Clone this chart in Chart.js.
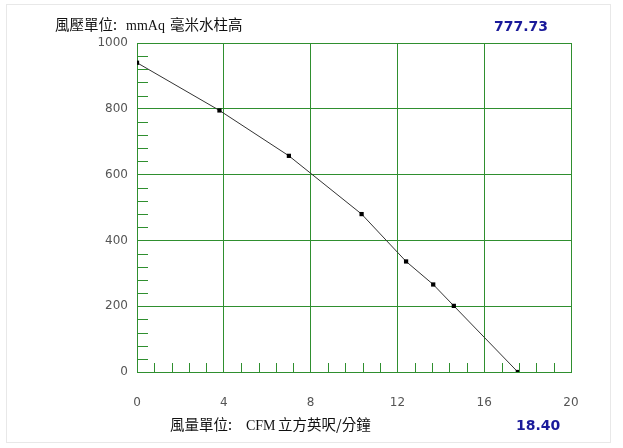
<!DOCTYPE html>
<html>
<head>
<meta charset="utf-8">
<script src="https://cdn.jsdelivr.net/npm/chart.js@4.4.1/dist/chart.umd.min.js"></script>
<style>
  html, body { margin: 0; padding: 0; background: #fff; }
  #wrap { width: 623px; height: 448px; position: relative; }
</style>
</head>
<body>
<div id="wrap"><canvas id="fanChart"></canvas></div>
<script>
'use strict';

// fan curve
const flowCFM = [0, 3.8, 7.0, 10.35, 12.4, 13.65, 14.6, 17.55];
const pressureMmAq = [940, 795, 657, 480, 336, 266, 201, 0];

const xTicks = [0, 4, 8, 12, 16, 20];
const yTicks = [0, 200, 400, 600, 800, 1000];
const xMinorStep = 0.8;
const yMinorStep = 40;

// unit captions, split in pieces so the spacing looks like the original
const yUnitParts = ['風壓單位:', 'mmAq', '毫米水柱高'];
const xUnitParts = ['風量單位:', 'CFM', '立方英呎/分鐘'];
const pressureValue = '777.73';
const flowValue = '18.40';

const gridGreen = '#2f8f2f';
const cjkFont = '"Noto Sans CJK TC", "DejaVu Sans", sans-serif';

let points = [];
for (let i = 0; i < flowCFM.length; i++) {
  points.push({ x: flowCFM[i], y: pressureMmAq[i] });
}

function drawParts(ctx, parts, xs, y) {
  for (let i = 0; i < parts.length; i++) {
    if (parts[i] === 'mmAq' || parts[i] === 'CFM') {
      ctx.font = '14px "Liberation Serif", serif';
    } else {
      ctx.font = '14.5px ' + cjkFont;
    }
    ctx.fillText(parts[i], xs[i], y);
  }
}

// short ticks along the left and bottom edge + the labels around the plot
const extrasPlugin = {
  id: 'extras',
  beforeDraw(chart) {
    const ctx = chart.ctx;
    ctx.save();
    ctx.fillStyle = '#fff';
    ctx.fillRect(0, 0, chart.width, chart.height);
    ctx.strokeStyle = '#e8e8e8';
    ctx.lineWidth = 1;
    ctx.strokeRect(6.5, 4.5, 604, 438);
    ctx.restore();
  },
  afterDatasetsDraw(chart) {
    const ctx = chart.ctx;
    const xs = chart.scales.x;
    const ys = chart.scales.y;
    const area = chart.chartArea;
    ctx.save();
    ctx.strokeStyle = gridGreen;
    ctx.lineWidth = 1;
    ctx.beginPath();
    for (let v = yMinorStep; v < 1000; v += yMinorStep) {
      if (v % 200 === 0) continue;
      const py = Math.round(ys.getPixelForValue(v)) + 0.5;
      ctx.moveTo(area.left, py);
      ctx.lineTo(area.left + 11, py);
    }
    for (let k = 1; k * xMinorStep < 20; k++) {
      if (k % 5 === 0) continue;
      const px = Math.round(xs.getPixelForValue(k * xMinorStep)) + 0.5;
      ctx.moveTo(px, area.bottom);
      ctx.lineTo(px, area.bottom - 9);
    }
    ctx.stroke();
    ctx.restore();
  },
  afterDraw(chart) {
    const ctx = chart.ctx;
    ctx.save();
    ctx.textBaseline = 'alphabetic';
    ctx.textAlign = 'left';
    ctx.fillStyle = '#111';
    drawParts(ctx, yUnitParts, [55, 126, 170], 30);
    drawParts(ctx, xUnitParts, [170, 246, 278], 430);
    ctx.fillStyle = '#1a1a9a';
    ctx.font = 'bold 14px "DejaVu Sans", Verdana, sans-serif';
    ctx.fillText(pressureValue, 494, 31);
    ctx.fillText(flowValue, 516, 430);
    ctx.restore();
  }
};

const config = {
  type: 'scatter',
  data: {
    datasets: [{
      data: points,
      showLine: true,
      borderColor: '#333',
      borderWidth: 1,
      backgroundColor: '#000',
      pointStyle: 'rect',
      pointRadius: 3,
      pointBorderWidth: 0,
      tension: 0
    }]
  },
  options: {
    responsive: true,
    maintainAspectRatio: false,
    animation: false,
    devicePixelRatio: 1,
    layout: { padding: { top: 43, right: 52, left: 0, bottom: 0 } },
    plugins: {
      legend: { display: false },
      tooltip: { enabled: false }
    },
    scales: {
      x: {
        type: 'linear',
        min: 0,
        max: 20,
        afterBuildTicks(scale) {
          scale.ticks = xTicks.map(v => ({ value: v }));
        },
        afterFit(scale) { scale.height = 76; },
        grid: { color: gridGreen, lineWidth: 1, drawTicks: false },
        border: { color: gridGreen, width: 1 },
        ticks: {
          padding: 24,
          color: '#555',
          font: { size: 12, family: '"DejaVu Sans", sans-serif' },
          callback: v => String(v)
        }
      },
      y: {
        type: 'linear',
        min: 0,
        max: 1000,
        afterBuildTicks(scale) {
          scale.ticks = yTicks.map(v => ({ value: v }));
        },
        afterFit(scale) { scale.width = 137; },
        grid: { color: gridGreen, lineWidth: 1, drawTicks: false },
        border: { color: gridGreen, width: 1 },
        ticks: {
          padding: 9,
          color: '#555',
          font: { size: 12, family: '"DejaVu Sans", sans-serif' },
          callback: v => String(v)
        }
      }
    }
  },
  plugins: [extrasPlugin]
};

const fanChart = new Chart(document.getElementById('fanChart'), config);
</script>
</body>
</html>
